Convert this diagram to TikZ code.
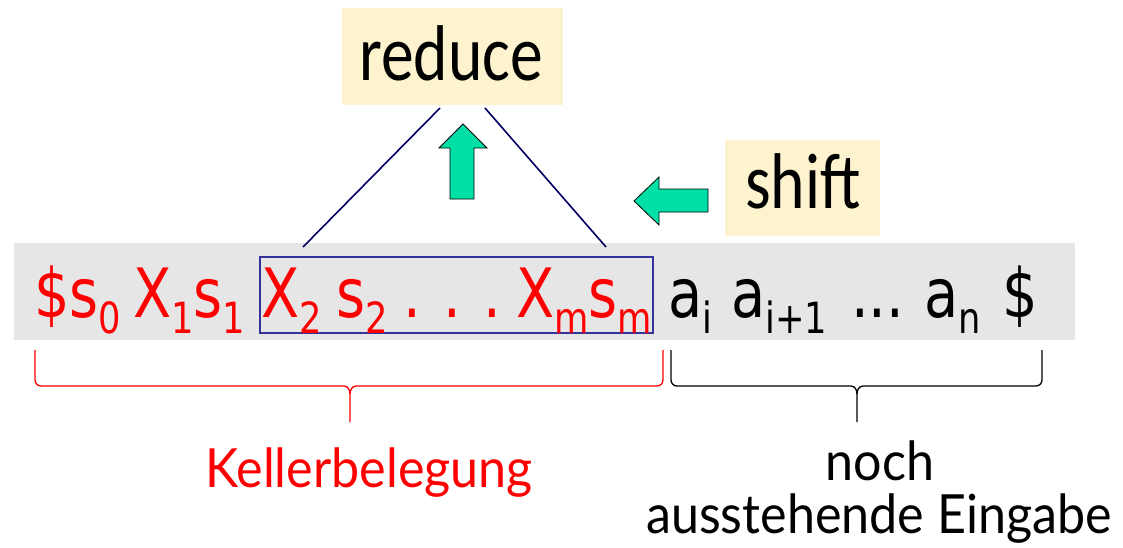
\documentclass[tikz,border=0pt]{standalone}
\usepackage{fontspec}
\usepackage{graphicx}
\newfontfamily\strf{DejaVu Sans}
\newfontfamily\calf{Carlito}
\newfontfamily\comf{Lato}
\definecolor{band}{HTML}{E6E6E6}
\definecolor{boxyel}{HTML}{FDF3CF}
\definecolor{arrgreen}{HTML}{00E0A6}
\definecolor{navy}{HTML}{000066}
\definecolor{boxblue}{HTML}{333399}
\newcommand{\sbs}[1]{\raisebox{-16pt}{\fontsize{43}{43}\selectfont #1}}
\newcommand{\sq}[1]{\scalebox{0.82}[1]{#1}}
\begin{document}
\begin{tikzpicture}[x=1pt,y=-1pt,
  strtxt/.style={anchor=base west,inner sep=0pt,font=\strf\fontsize{68}{68}\selectfont},
  redtxt/.style={strtxt,text=red},
  greenarrow/.style={fill=arrgreen,draw=black,line width=0.8pt,line join=miter},
  navyline/.style={draw=navy,line width=1.6pt},
  bracestyle/.style={line width=1.3pt},
  lbl/.style={inner sep=0pt,font=\comf\fontsize{54}{54}\selectfont,anchor=base}]
\useasboundingbox (0,0) rectangle (1123,547);
% band
\fill[band] (14,243) rectangle (1075,340);
% reduce / shift boxes
\node[fill=boxyel,minimum width=221pt,minimum height=97pt,inner sep=0pt] (red) at (452.5,56.5) {};
\node[anchor=base,inner sep=0pt,font=\calf\fontsize{79}{79}\selectfont] (redt) at (451,80) {\scalebox{0.83}[1]{reduce}};
\node[fill=boxyel,minimum width=155pt,minimum height=96pt,inner sep=0pt] (sh) at (802.5,188) {};
\node[anchor=base,inner sep=0pt,font=\calf\fontsize{79}{79}\selectfont] (sht) at (803,208) {\scalebox{0.83}[1]{shift}};
% blue box
\node[draw=boxblue,line width=1.3pt,minimum width=393pt,minimum height=76pt,inner sep=0pt] (hb) at (456.5,295) {};
% lines
\coordinate (l1) at (440,108);
\coordinate (l2) at (303,247);
\coordinate (r1) at (485,108);
\coordinate (r2) at (606,247);
\draw[navyline] (l1) -- (l2);
\draw[navyline] (r1) -- (r2);
% arrows
\draw[greenarrow] (463,124) -- (487,148) -- (474,148) -- (474,199) -- (450,199) -- (450,148) -- (439,148) -- cycle;
\draw[greenarrow] (634,201) -- (659,177) -- (659,189) -- (708,189) -- (708,212) -- (659,212) -- (659,225) -- cycle;
% stack text
\node[redtxt] (t1) at (34,317) {\sq{\$s\sbs{0}}};
\node[redtxt] (t2) at (133,317) {\sq{X\sbs{1}s\sbs{1}}};
\node[redtxt] (t3) at (261,317) {\sq{X\sbs{2}}};
\node[redtxt] (t4) at (336,317) {\sq{s\sbs{2}}};
\node[redtxt] (d1) at (403,317) {\sq{.}};
\node[redtxt] (d2) at (443,317) {\sq{.}};
\node[redtxt] (d3) at (483,317) {\sq{.}};
\node[redtxt] (t5) at (516,317) {\sq{X\sbs{m}s\sbs{m}}};
% input text
\node[strtxt] (a1) at (668,317) {\sq{a\sbs{i}}};
\node[strtxt] (a2) at (731,317) {\sq{a\sbs{i+1}}};
\node[strtxt] (a3) at (851,317) {\sq{...}};
\node[strtxt] (a4) at (924,317) {\sq{a\sbs{n}}};
\node[strtxt] (a5) at (1002,317) {\sq{\$}};
% braces
\draw[red,bracestyle] (35,350) -- (35,380) to[out=-90,in=180] (41,386) -- (344,386) to[out=0,in=90] (350,394) -- (350,422);
\draw[red,bracestyle] (350,394) to[out=90,in=180] (356,386) -- (657,386) to[out=0,in=-90] (663,380) -- (663,350);
\draw[black,bracestyle] (671,350) -- (671,380) to[out=-90,in=180] (677,386) -- (851,386) to[out=0,in=90] (857,394) -- (857,422);
\draw[black,bracestyle] (857,394) to[out=90,in=180] (863,386) -- (1036,386) to[out=0,in=-90] (1042,380) -- (1042,350);
% labels
\node[lbl,text=red] (kb) at (369,487) {\scalebox{0.93}[1]{Kellerbelegung}};
\node[lbl] (noch) at (880,480) {\scalebox{0.93}[1]{noch}};
\node[lbl] (aus) at (879,533) {\scalebox{0.93}[1]{ausstehende Eingabe}};
\end{tikzpicture}
\end{document}
